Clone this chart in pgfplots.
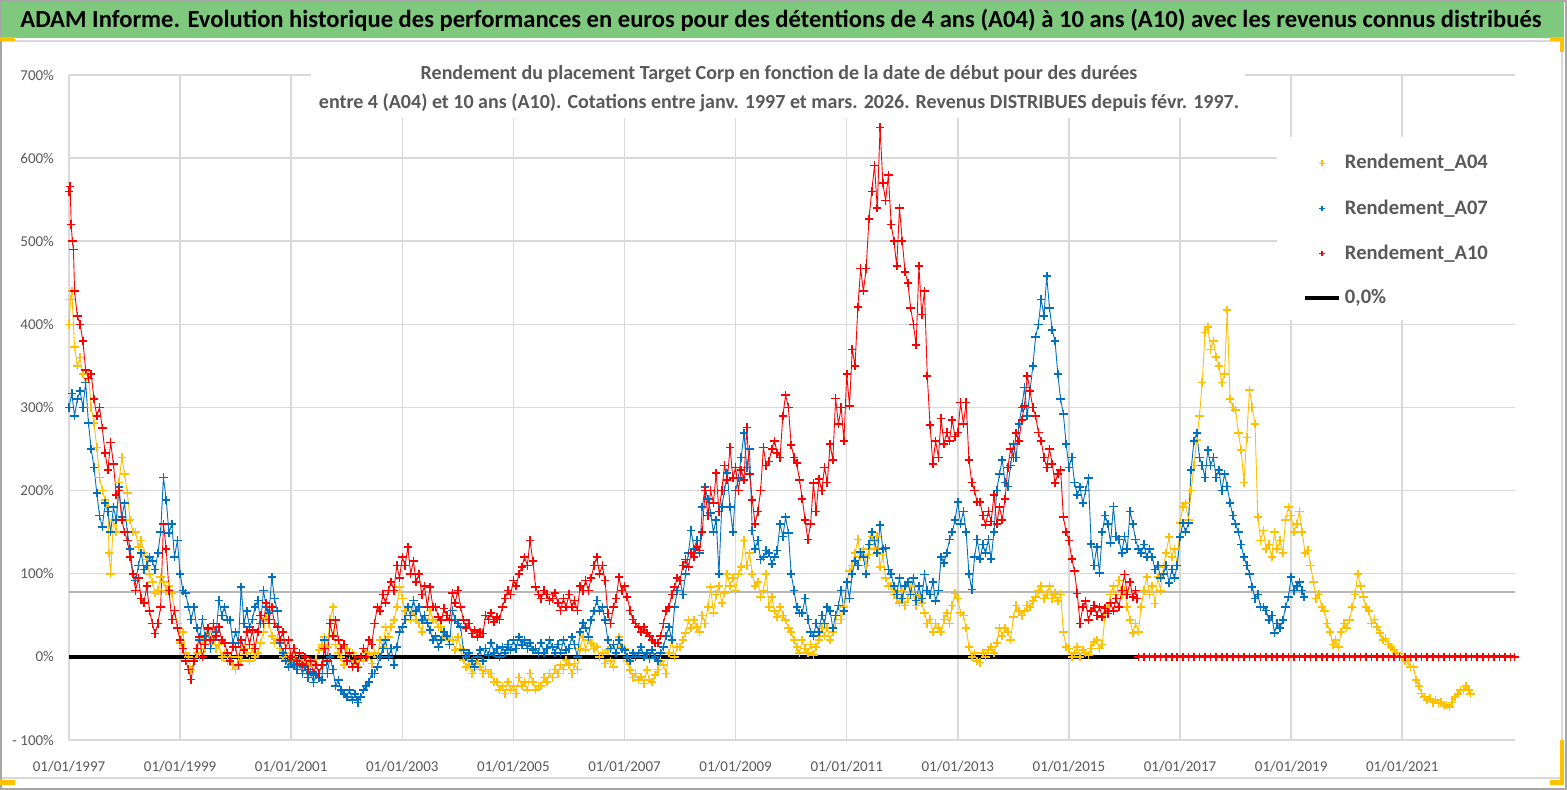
\documentclass[border=0pt]{standalone}
\usepackage{fontspec}
\setmainfont{Carlito}
\usepackage{pgfplots}
\pgfplotsset{compat=1.18}
\usepackage{pgfplotstable}
\definecolor{ygold}{HTML}{FFC000}
\definecolor{mblue}{HTML}{0070C0}
\definecolor{mred}{HTML}{FF0000}
\definecolor{txtgray}{HTML}{595959}
\definecolor{gridgray}{HTML}{D9D9D9}
\definecolor{bannergreen}{HTML}{7EC97E}
\definecolor{framegray}{HTML}{A6A6A6}

\pgfplotstableread{
x y
1997.00 400
1997.03 430
1997.05 440
1997.10 373
1997.15 350
1997.20 360
1997.25 340
1997.30 330
1997.35 340
1997.40 300
1997.45 281
1997.50 252
1997.55 216
1997.60 200
1997.65 189
1997.70 180
1997.72 125
1997.75 100
1997.80 165
1997.85 150
1997.90 210
1997.95 240
1998.00 220
1998.05 197
1998.10 165
1998.15 150
1998.20 150
1998.25 132
1998.30 140
1998.35 125
1998.40 117
1998.45 100
1998.50 90
1998.55 77
1998.60 80
1998.65 96
1998.70 90
1998.75 80
1998.80 85
1998.85 77
1998.90 56
1998.95 40
1999.00 17
1999.05 30
1999.10 5
1999.15 0
1999.20 -16
1999.25 -5
1999.30 5
1999.35 0
1999.40 20
1999.45 10
1999.50 30
1999.55 15
1999.60 25
1999.65 10
1999.70 15
1999.75 0
1999.80 5
1999.85 -5
1999.90 0
1999.95 -10
2000.00 -15
2000.05 0
2000.10 -5
2000.15 10
2000.20 5
2000.25 -5
2000.30 10
2000.35 0
2000.40 5
2000.45 17
2000.50 30
2000.55 47
2000.60 40
2000.65 25
2000.70 17
2000.75 22
2000.80 10
2000.85 0
2000.90 5
2000.95 -3
2001.00 -5
2001.05 0
2001.10 -8
2001.15 -3
2001.20 -10
2001.25 -5
2001.30 -5
2001.35 -10
2001.40 -8
2001.45 -3
2001.50 8
2001.55 15
2001.60 24
2001.65 12
2001.70 45
2001.75 60
2001.80 15
2001.85 5
2001.90 0
2001.95 -10
2002.00 10
2002.05 -5
2002.10 5
2002.15 -5
2002.20 -12
2002.25 0
2002.30 -5
2002.35 5
2002.40 2
2002.45 -8
2002.50 5
2002.55 0
2002.60 20
2002.65 12
2002.70 36
2002.75 24
2002.80 36
2002.85 44
2002.90 60
2002.95 84
2003.00 70
2003.05 55
2003.10 60
2003.15 44
2003.20 55
2003.25 45
2003.30 40
2003.35 30
2003.40 50
2003.45 40
2003.50 56
2003.55 44
2003.60 44
2003.65 36
2003.70 36
2003.75 24
2003.80 24
2003.85 20
2003.90 20
2003.95 8
2004.00 24
2004.05 10
2004.10 -4
2004.15 -12
2004.20 -10
2004.25 -20
2004.30 -15
2004.35 -5
2004.40 -12
2004.45 -20
2004.50 -15
2004.55 -20
2004.60 -20
2004.65 -30
2004.70 -30
2004.75 -40
2004.80 -35
2004.85 -44
2004.90 -30
2004.95 -40
2005.00 -35
2005.05 -44
2005.10 -25
2005.15 -35
2005.20 -30
2005.25 -40
2005.30 -20
2005.35 -30
2005.40 -40
2005.45 -35
2005.50 -35
2005.55 -25
2005.60 -30
2005.65 -20
2005.70 -25
2005.75 -15
2005.80 -20
2005.85 -10
2005.90 -15
2005.95 -4
2006.00 -10
2006.05 -20
2006.10 -8
2006.15 -15
2006.20 10
2006.25 24
2006.30 8
2006.35 20
2006.40 17
2006.45 10
2006.50 12
2006.55 0
2006.60 5
2006.65 -8
2006.70 8
2006.75 -5
2006.80 -12
2006.85 5
2006.90 24
2006.95 12
2007.00 10
2007.05 -5
2007.10 -16
2007.15 -25
2007.20 -20
2007.25 -28
2007.30 -24
2007.35 -32
2007.40 -16
2007.45 -28
2007.50 -30
2007.55 -22
2007.60 -15
2007.65 -5
2007.70 -10
2007.75 -20
2007.80 5
2007.85 20
2007.90 0
2007.95 12
2008.00 12
2008.05 20
2008.10 29
2008.15 44
2008.20 35
2008.25 44
2008.30 36
2008.35 30
2008.40 50
2008.45 40
2008.50 60
2008.55 84
2008.60 53
2008.65 75
2008.70 85
2008.75 65
2008.80 77
2008.85 100
2008.90 85
2008.95 95
2009.00 80
2009.05 100
2009.10 108
2009.15 140
2009.20 110
2009.25 125
2009.30 100
2009.35 85
2009.40 90
2009.45 72
2009.50 80
2009.55 100
2009.60 60
2009.65 72
2009.70 55
2009.75 48
2009.80 60
2009.85 50
2009.90 44
2009.95 35
2010.00 30
2010.05 20
2010.10 12
2010.15 5
2010.20 20
2010.25 10
2010.30 5
2010.35 15
2010.40 2
2010.45 12
2010.50 20
2010.55 35
2010.60 25
2010.65 35
2010.70 20
2010.75 30
2010.80 40
2010.85 62
2010.90 45
2010.95 60
2011.00 90
2011.05 103
2011.10 110
2011.15 125
2011.20 141
2011.25 120
2011.30 130
2011.35 110
2011.40 123
2011.45 145
2011.50 130
2011.55 145
2011.60 108
2011.65 123
2011.70 95
2011.75 85
2011.80 85
2011.85 75
2011.90 70
2011.95 65
2012.00 80
2012.05 62
2012.10 70
2012.15 85
2012.20 75
2012.25 62
2012.30 72
2012.35 65
2012.40 53
2012.45 40
2012.50 45
2012.55 30
2012.60 40
2012.65 35
2012.70 30
2012.75 45
2012.80 53
2012.85 40
2012.90 62
2012.95 76
2013.00 70
2013.05 53
2013.10 50
2013.15 35
2013.20 12
2013.25 0
2013.30 5
2013.35 -5
2013.40 -7
2013.45 5
2013.50 0
2013.55 8
2013.60 12
2013.65 5
2013.70 17
2013.75 35
2013.80 25
2013.85 35
2013.90 30
2013.95 20
2014.00 48
2014.05 62
2014.10 55
2014.15 50
2014.20 55
2014.25 62
2014.30 60
2014.35 67
2014.40 72
2014.45 80
2014.50 85
2014.55 70
2014.60 75
2014.65 85
2014.70 70
2014.75 76
2014.80 67
2014.85 75
2014.90 30
2014.95 12
2015.00 10
2015.05 0
2015.10 5
2015.15 12
2015.20 0
2015.25 8
2015.30 5
2015.35 2
2015.40 10
2015.45 18
2015.50 20
2015.55 10
2015.60 15
2015.65 50
2015.70 60
2015.75 75
2015.80 85
2015.85 70
2015.90 92
2015.95 75
2016.00 80
2016.05 60
2016.10 44
2016.15 29
2016.20 40
2016.25 30
2016.30 60
2016.35 80
2016.40 96
2016.45 75
2016.50 85
2016.55 64
2016.60 96
2016.65 80
2016.70 108
2016.75 125
2016.80 144
2016.85 120
2016.90 130
2016.95 110
2017.00 161
2017.05 180
2017.10 185
2017.15 165
2017.20 200
2017.25 230
2017.30 261
2017.35 290
2017.40 330
2017.45 390
2017.50 397
2017.55 370
2017.60 380
2017.65 361
2017.70 350
2017.75 330
2017.80 340
2017.85 417
2017.90 310
2017.95 300
2018.00 297
2018.05 269
2018.10 249
2018.15 210
2018.20 264
2018.25 321
2018.30 300
2018.35 280
2018.40 168
2018.45 140
2018.50 152
2018.55 130
2018.60 135
2018.65 120
2018.70 150
2018.75 130
2018.80 140
2018.85 125
2018.90 165
2018.95 180
2019.00 170
2019.05 150
2019.10 160
2019.15 175
2019.20 150
2019.25 125
2019.30 128
2019.35 110
2019.40 90
2019.45 70
2019.50 75
2019.55 60
2019.60 55
2019.65 40
2019.70 30
2019.75 15
2019.80 20
2019.85 12
2019.90 30
2019.95 40
2020.00 35
2020.05 44
2020.10 60
2020.15 75
2020.20 100
2020.25 85
2020.30 72
2020.35 60
2020.40 55
2020.45 40
2020.50 45
2020.55 36
2020.60 29
2020.65 20
2020.70 22
2020.75 15
2020.80 12
2020.85 8
2020.90 5
2020.95 0
2021.00 0
2021.05 -5
2021.10 -5
2021.15 -12
2021.20 -12
2021.25 -28
2021.30 -35
2021.35 -44
2021.40 -48
2021.45 -52
2021.50 -50
2021.55 -55
2021.60 -52
2021.65 -56
2021.70 -55
2021.75 -58
2021.80 -58
2021.85 -60
2021.90 -55
2021.95 -48
2022.00 -45
2022.05 -40
2022.10 -40
2022.15 -35
2022.20 -40
2022.23 -45
}\tableAfour

\pgfplotstableread{
x y
1997.00 300
1997.05 317
1997.10 290
1997.15 310
1997.20 320
1997.25 300
1997.30 330
1997.35 281
1997.40 250
1997.45 228
1997.50 197
1997.55 170
1997.60 156
1997.65 185
1997.70 175
1997.75 150
1997.80 180
1997.85 165
1997.90 204
1997.95 168
1998.00 185
1998.05 150
1998.10 130
1998.15 100
1998.20 92
1998.25 110
1998.30 125
1998.35 105
1998.40 110
1998.45 120
1998.50 115
1998.55 105
1998.60 125
1998.65 150
1998.70 216
1998.75 189
1998.80 149
1998.85 160
1998.90 120
1998.95 140
1999.00 100
1999.05 80
1999.10 77
1999.15 60
1999.20 45
1999.25 60
1999.30 35
1999.35 20
1999.40 45
1999.45 25
1999.50 33
1999.55 10
1999.60 20
1999.65 30
1999.70 68
1999.75 50
1999.80 60
1999.85 44
1999.90 44
1999.95 17
2000.00 30
2000.05 17
2000.10 84
2000.15 40
2000.20 55
2000.25 36
2000.30 45
2000.35 60
2000.40 68
2000.45 40
2000.50 80
2000.55 60
2000.60 53
2000.65 96
2000.70 70
2000.75 55
2000.80 17
2000.85 5
2000.90 -5
2000.95 -12
2001.00 -3
2001.05 -10
2001.10 -15
2001.15 -8
2001.20 -20
2001.25 -12
2001.30 -25
2001.35 -18
2001.40 -31
2001.45 -22
2001.50 -25
2001.55 -28
2001.60 20
2001.65 -20
2001.70 0
2001.75 -15
2001.80 -35
2001.85 -28
2001.90 -40
2001.95 -45
2002.00 -48
2002.05 -40
2002.10 -52
2002.15 -45
2002.20 -55
2002.25 -48
2002.30 -40
2002.35 -35
2002.40 -30
2002.45 -20
2002.50 -20
2002.55 -12
2002.60 0
2002.65 10
2002.70 20
2002.75 0
2002.80 10
2002.85 -10
2002.90 12
2002.95 30
2003.00 36
2003.05 45
2003.10 60
2003.15 50
2003.20 68
2003.25 55
2003.30 60
2003.35 44
2003.40 50
2003.45 41
2003.50 32
2003.55 20
2003.60 25
2003.65 12
2003.70 20
2003.75 30
2003.80 25
2003.85 15
2003.90 56
2003.95 45
2004.00 40
2004.05 36
2004.10 8
2004.15 0
2004.20 5
2004.25 -5
2004.30 -12
2004.35 0
2004.40 8
2004.45 -5
2004.50 10
2004.55 2
2004.60 17
2004.65 5
2004.70 10
2004.75 0
2004.80 12
2004.85 5
2004.90 15
2004.95 8
2005.00 20
2005.05 10
2005.10 24
2005.15 14
2005.20 20
2005.25 10
2005.30 17
2005.35 8
2005.40 10
2005.45 5
2005.50 17
2005.55 5
2005.60 10
2005.65 20
2005.70 12
2005.75 5
2005.80 15
2005.85 5
2005.90 20
2005.95 8
2006.00 10
2006.05 24
2006.10 15
2006.15 0
2006.20 30
2006.25 41
2006.30 35
2006.35 24
2006.40 44
2006.45 55
2006.50 68
2006.55 55
2006.60 60
2006.65 44
2006.70 20
2006.75 10
2006.80 15
2006.85 5
2006.90 20
2006.95 10
2007.00 8
2007.05 0
2007.10 -5
2007.15 5
2007.20 0
2007.25 5
2007.30 12
2007.35 0
2007.40 5
2007.45 -2
2007.50 8
2007.55 0
2007.60 -5
2007.65 5
2007.70 12
2007.75 25
2007.80 36
2007.85 20
2007.90 60
2007.95 80
2008.00 92
2008.05 75
2008.10 100
2008.15 125
2008.20 152
2008.25 130
2008.30 140
2008.35 125
2008.40 180
2008.45 204
2008.50 190
2008.55 173
2008.60 150
2008.65 165
2008.70 100
2008.75 180
2008.80 200
2008.85 221
2008.90 180
2008.95 150
2009.00 200
2009.05 215
2009.10 240
2009.15 269
2009.20 228
2009.25 250
2009.30 152
2009.35 130
2009.40 140
2009.45 117
2009.50 120
2009.55 128
2009.60 125
2009.65 112
2009.70 120
2009.75 128
2009.80 160
2009.85 145
2009.90 168
2009.95 149
2010.00 100
2010.05 80
2010.10 60
2010.15 53
2010.20 53
2010.25 70
2010.30 45
2010.35 30
2010.40 25
2010.45 40
2010.50 30
2010.55 50
2010.60 40
2010.65 60
2010.70 55
2010.75 35
2010.80 50
2010.85 62
2010.90 80
2010.95 55
2011.00 90
2011.05 70
2011.10 100
2011.15 115
2011.20 110
2011.25 126
2011.30 120
2011.35 100
2011.40 135
2011.45 150
2011.50 140
2011.55 125
2011.60 159
2011.65 130
2011.70 131
2011.75 105
2011.80 100
2011.85 85
2011.90 75
2011.95 95
2012.00 70
2012.05 85
2012.10 90
2012.15 75
2012.20 95
2012.25 68
2012.30 85
2012.35 70
2012.40 99
2012.45 80
2012.50 75
2012.55 90
2012.60 67
2012.65 80
2012.70 120
2012.75 113
2012.80 125
2012.85 141
2012.90 150
2012.95 165
2013.00 186
2013.05 160
2013.10 175
2013.15 150
2013.20 100
2013.25 81
2013.30 120
2013.35 141
2013.40 118
2013.45 135
2013.50 125
2013.55 141
2013.60 118
2013.65 150
2013.70 200
2013.75 220
2013.80 237
2013.85 210
2013.90 205
2013.95 230
2014.00 256
2014.05 240
2014.10 280
2014.15 300
2014.20 324
2014.25 290
2014.30 320
2014.35 350
2014.40 385
2014.45 400
2014.50 430
2014.55 410
2014.60 458
2014.65 420
2014.70 393
2014.75 380
2014.80 340
2014.85 310
2014.90 292
2014.95 256
2015.00 228
2015.05 240
2015.10 210
2015.15 195
2015.20 204
2015.25 185
2015.30 200
2015.35 215
2015.40 136
2015.45 110
2015.50 132
2015.55 101
2015.60 150
2015.65 170
2015.70 160
2015.75 137
2015.80 181
2015.85 145
2015.90 141
2015.95 125
2016.00 145
2016.05 130
2016.10 175
2016.15 160
2016.20 141
2016.25 130
2016.30 125
2016.35 135
2016.40 120
2016.45 130
2016.50 120
2016.55 105
2016.60 110
2016.65 95
2016.70 100
2016.75 110
2016.80 89
2016.85 105
2016.90 95
2016.95 110
2017.00 144
2017.05 161
2017.10 150
2017.15 161
2017.20 225
2017.25 260
2017.30 269
2017.35 240
2017.40 230
2017.45 216
2017.50 249
2017.55 230
2017.60 240
2017.65 216
2017.70 225
2017.75 200
2017.80 220
2017.85 205
2017.90 185
2017.95 170
2018.00 160
2018.05 150
2018.10 135
2018.15 120
2018.20 110
2018.25 100
2018.30 84
2018.35 70
2018.40 75
2018.45 60
2018.50 60
2018.55 56
2018.60 44
2018.65 50
2018.70 29
2018.75 40
2018.80 35
2018.85 44
2018.90 60
2018.95 72
2019.00 96
2019.05 80
2019.10 85
2019.15 90
2019.20 80
2019.23 72
}\tableAseven

\pgfplotstableread{
x y
1997.00 560
1997.02 566
1997.04 520
1997.06 500
1997.08 490
1997.10 440
1997.15 410
1997.20 400
1997.25 380
1997.30 345
1997.35 335
1997.40 340
1997.45 310
1997.50 290
1997.55 300
1997.60 275
1997.65 245
1997.70 225
1997.75 258
1997.80 232
1997.85 195
1997.90 200
1997.95 165
1998.00 150
1998.05 140
1998.10 120
1998.15 100
1998.20 80
1998.25 95
1998.30 70
1998.35 65
1998.40 85
1998.45 55
1998.50 40
1998.55 28
1998.60 40
1998.65 60
1998.70 160
1998.75 130
1998.80 80
1998.85 45
1998.90 56
1998.95 35
1999.00 20
1999.05 10
1999.10 -5
1999.15 -15
1999.20 -27
1999.25 -5
1999.30 10
1999.35 24
1999.40 0
1999.45 15
1999.50 35
1999.55 20
1999.60 40
1999.65 25
1999.70 36
1999.75 20
1999.80 17
1999.85 5
1999.90 -5
1999.95 12
2000.00 12
2000.05 -10
2000.10 20
2000.15 8
2000.20 30
2000.25 15
2000.30 32
2000.35 10
2000.40 30
2000.45 50
2000.50 40
2000.55 65
2000.60 45
2000.65 60
2000.70 40
2000.75 36
2000.80 20
2000.85 30
2000.90 10
2000.95 20
2001.00 0
2001.05 10
2001.10 -5
2001.15 5
2001.20 -10
2001.25 0
2001.30 -15
2001.35 -5
2001.40 -20
2001.45 -10
2001.50 -20
2001.55 -10
2001.60 10
2001.65 -5
2001.70 40
2001.75 25
2001.80 44
2001.85 20
2001.90 10
2001.95 15
2002.00 -5
2002.05 5
2002.10 -12
2002.15 -3
2002.20 -13
2002.25 0
2002.30 10
2002.35 0
2002.40 20
2002.45 15
2002.50 40
2002.55 60
2002.60 55
2002.65 75
2002.70 65
2002.75 80
2002.80 90
2002.85 80
2002.90 110
2002.95 95
2003.00 120
2003.05 110
2003.10 132
2003.15 100
2003.20 115
2003.25 90
2003.30 100
2003.35 75
2003.40 85
2003.45 60
2003.50 84
2003.55 60
2003.60 60
2003.65 48
2003.70 44
2003.75 58
2003.80 50
2003.85 44
2003.90 77
2003.95 65
2004.00 80
2004.05 60
2004.10 44
2004.15 35
2004.20 40
2004.25 28
2004.30 32
2004.35 24
2004.40 30
2004.45 28
2004.50 50
2004.55 45
2004.60 53
2004.65 42
2004.70 48
2004.75 45
2004.80 60
2004.85 70
2004.90 80
2004.95 75
2005.00 92
2005.05 85
2005.10 100
2005.15 108
2005.20 120
2005.25 110
2005.30 140
2005.35 115
2005.40 84
2005.45 75
2005.50 70
2005.55 80
2005.60 75
2005.65 68
2005.70 70
2005.75 77
2005.80 65
2005.85 56
2005.90 70
2005.95 60
2006.00 75
2006.05 60
2006.10 68
2006.15 56
2006.20 85
2006.25 80
2006.30 92
2006.35 80
2006.40 95
2006.45 110
2006.50 120
2006.55 100
2006.60 110
2006.65 92
2006.70 52
2006.75 40
2006.80 60
2006.85 70
2006.90 96
2006.95 80
2007.00 85
2007.05 72
2007.10 56
2007.15 45
2007.20 40
2007.25 36
2007.30 30
2007.35 36
2007.40 29
2007.45 25
2007.50 20
2007.55 17
2007.60 17
2007.65 25
2007.70 40
2007.75 55
2007.80 60
2007.85 75
2007.90 84
2007.95 95
2008.00 92
2008.05 110
2008.10 117
2008.15 108
2008.20 125
2008.25 120
2008.30 132
2008.35 128
2008.40 150
2008.45 200
2008.50 170
2008.55 200
2008.60 185
2008.65 221
2008.70 175
2008.75 200
2008.80 230
2008.85 213
2008.90 252
2008.95 215
2009.00 228
2009.05 200
2009.10 225
2009.15 213
2009.20 276
2009.25 220
2009.30 189
2009.35 160
2009.40 175
2009.45 200
2009.50 252
2009.55 230
2009.60 235
2009.65 250
2009.70 260
2009.75 245
2009.80 240
2009.85 290
2009.90 315
2009.95 300
2010.00 255
2010.05 240
2010.10 233
2010.15 213
2010.20 190
2010.25 165
2010.30 141
2010.35 160
2010.40 209
2010.45 175
2010.50 214
2010.55 200
2010.60 228
2010.65 210
2010.70 256
2010.75 237
2010.80 311
2010.85 280
2010.90 300
2010.95 260
2011.00 340
2011.05 302
2011.10 370
2011.15 350
2011.20 421
2011.25 467
2011.30 440
2011.35 467
2011.40 527
2011.45 560
2011.50 591
2011.55 540
2011.60 637
2011.65 570
2011.70 549
2011.75 580
2011.80 520
2011.85 500
2011.90 470
2011.95 540
2012.00 500
2012.05 463
2012.10 450
2012.15 420
2012.20 400
2012.25 375
2012.30 470
2012.35 412
2012.40 440
2012.45 338
2012.50 279
2012.55 232
2012.60 260
2012.65 240
2012.70 287
2012.75 256
2012.80 270
2012.85 260
2012.90 285
2012.95 265
2013.00 270
2013.05 306
2013.10 280
2013.15 306
2013.20 237
2013.25 210
2013.30 200
2013.35 186
2013.40 186
2013.45 170
2013.50 159
2013.55 175
2013.60 163
2013.65 195
2013.70 160
2013.75 180
2013.80 165
2013.85 190
2013.90 228
2013.95 250
2014.00 240
2014.05 269
2014.10 260
2014.15 285
2014.20 302
2014.25 338
2014.30 320
2014.35 300
2014.40 290
2014.45 270
2014.50 260
2014.55 240
2014.60 228
2014.65 250
2014.70 232
2014.75 209
2014.80 220
2014.85 225
2014.90 168
2014.95 150
2015.00 140
2015.05 118
2015.10 103
2015.15 76
2015.20 40
2015.25 60
2015.30 67
2015.35 44
2015.40 55
2015.45 62
2015.50 50
2015.55 60
2015.60 48
2015.65 58
2015.70 52
2015.75 65
2015.80 55
2015.85 70
2015.90 60
2015.95 80
2016.00 99
2016.05 75
2016.10 90
2016.15 72
2016.20 80
2016.23 70
}\tableAten

\pgfplotstableread{
x y
2016.25 0
2016.35 0
2016.45 0
2016.55 0
2016.65 0
2016.75 0
2016.85 0
2016.95 0
2017.05 0
2017.15 0
2017.25 0
2017.35 0
2017.45 0
2017.55 0
2017.65 0
2017.75 0
2017.85 0
2017.95 0
2018.05 0
2018.15 0
2018.25 0
2018.35 0
2018.45 0
2018.55 0
2018.65 0
2018.75 0
2018.85 0
2018.95 0
2019.05 0
2019.15 0
2019.25 0
2019.35 0
2019.45 0
2019.55 0
2019.65 0
2019.75 0
2019.85 0
2019.95 0
2020.05 0
2020.15 0
2020.25 0
2020.35 0
2020.45 0
2020.55 0
2020.65 0
2020.75 0
2020.85 0
2020.95 0
2021.05 0
2021.15 0
2021.25 0
2021.35 0
2021.45 0
2021.55 0
2021.65 0
2021.75 0
2021.85 0
2021.95 0
2022.05 0
2022.15 0
2022.25 0
2022.35 0
2022.45 0
2022.55 0
2022.65 0
2022.75 0
2022.85 0
2022.95 0
2023.02 0
}\tableAtenzero

\begin{document}
\begin{tikzpicture}
\useasboundingbox (0pt,0pt) rectangle (783.5pt,395pt);
\fill[white] (0pt,0pt) rectangle (783.5pt,395pt);
\fill[bannergreen] (1pt,376pt) rectangle (782.2pt,393.8pt);
\draw[gridgray, line width=0.8pt] (0.5pt,374.6pt) -- (781pt,374.6pt) -- (781pt,6pt) -- (0.5pt,6pt);
\draw[framegray, line width=1pt] (0.5pt,0.5pt) rectangle (783pt,394.5pt);
\fill[ygold] (0pt,374.3pt) rectangle (7.5pt,376.3pt);
\fill[ygold] (775pt,374.3pt) rectangle (782.2pt,376.3pt);
\fill[ygold] (780.2pt,369pt) rectangle (782.2pt,376.3pt);
\fill[ygold] (780.2pt,2.5pt) rectangle (782.2pt,25pt);
\fill[ygold] (775pt,2.5pt) rectangle (782.2pt,4.8pt);
\fill[ygold] (0pt,2.5pt) rectangle (7.5pt,4.8pt);

\begin{axis}[
  at={(34.5pt,25pt)}, anchor=south west,
  scale only axis, width=723pt, height=332.5pt,
  xmin=1997, xmax=2023.03, ymin=-100, ymax=700,
  xtick={1997,1999,...,2021},
  xticklabels={01/01/1997,01/01/1999,01/01/2001,01/01/2003,01/01/2005,01/01/2007,01/01/2009,01/01/2011,01/01/2013,01/01/2015,01/01/2017,01/01/2019,01/01/2021},
  ytick={-100,0,...,700},
  yticklabels={- 100\%,0\%,100\%,200\%,300\%,400\%,500\%,600\%,700\%},
  grid=major, major grid style={gridgray, line width=0.75pt},
  axis line style={draw=none},
  major tick length=0pt,
  tick label style={font=\fontsize{7.5}{9}\selectfont, text=txtgray},
  xticklabel style={yshift=-7pt},
  yticklabel style={xshift=-4pt},
  clip=false,
  legend style={at={(0.853,0.887)}, anchor=north west, draw=none, fill=none,
    font=\fontsize{10.3}{12}\selectfont\bfseries, text=txtgray, row sep=9.8pt, inner sep=0pt},
  legend cell align=left,
  scatterline/.style={line width=0.45pt, forget plot, mark=none},
  scattermarks/.style={only marks, mark=+, mark size=2.1pt, mark options={line width=0.8pt},
     legend image post style={mark size=1.4pt, mark options={line width=0.6pt}}},
]
\fill[white] (rel axis cs:0.8354,0.6316) rectangle (rel axis cs:1.003,0.9068);
\fill[white] (rel axis cs:0.1674,0.9353) rectangle (rel axis cs:0.8133,1.03);
\addplot[color=black!28, line width=0.75pt, forget plot] coordinates {(1997,78) (2023.03,78)};
\addplot[scatterline, color=ygold] table {\tableAfour};
\addplot[scattermarks, color=ygold] table {\tableAfour};
\addlegendentry{Rendement\_A04}
\addplot[scatterline, color=mblue] table {\tableAseven};
\addplot[scattermarks, color=mblue] table {\tableAseven};
\addlegendentry{Rendement\_A07}
\addplot[scatterline, color=mred] table {\tableAten};
\addplot[scattermarks, color=mred] table {\tableAten};
\addlegendentry{Rendement\_A10}
\addplot[color=mred, line width=1.6pt, mark=+, mark size=2.1pt, mark options={line width=0.8pt}, forget plot] table {\tableAtenzero};
\addplot[color=black, line width=2pt] coordinates {(1997,0) (2016.25,0)};
\addlegendentry{0,0\%}
\end{axis}

\node[anchor=west, inner sep=0pt] at (10pt,385pt) {\fontsize{12.3}{14}\selectfont\bfseries ADAM Informe. Evolution historique des performances en euros pour des détentions de 4 ans (A04) à 10 ans (A10) avec les revenus connus distribués};
\node[text=txtgray, inner sep=0pt] at (389.5pt,358pt) {\fontsize{10}{12}\selectfont\bfseries Rendement du placement Target Corp en fonction de la date de début pour des durées};
\node[text=txtgray, inner sep=0pt] at (389.5pt,343.5pt) {\fontsize{10}{12}\selectfont\bfseries entre 4 (A04) et 10 ans (A10). Cotations entre janv. 1997 et mars. 2026. Revenus DISTRIBUES depuis févr. 1997.};
\end{tikzpicture}
\end{document}
